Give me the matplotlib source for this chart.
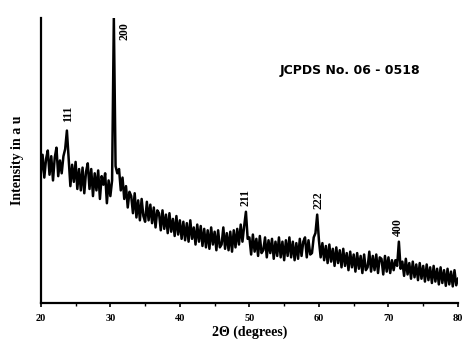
import numpy as np
import matplotlib
matplotlib.use("Agg")
import matplotlib.pyplot as plt

# XRD scan, 20-80 deg in 0.25 deg steps
two_theta = np.arange(20, 80.001, 0.25)
intensity = [
    455, 520, 440, 505,   # 20
    535, 450, 515, 430,   # 21
    510, 545, 445, 500,   # 22
    455, 515, 540, 605,   # 23
    505, 410, 485, 425,   # 24
    495, 400, 470, 395,   # 25
    475, 385, 460, 490,   # 26
    400, 470, 375, 455,   # 27
    395, 465, 365, 445,   # 28
    415, 455, 350, 430,   # 29
    375, 430, 1000, 480,  # 30
    455, 470, 395, 440,   # 31
    365, 410, 335, 390,   # 32
    375, 315, 385, 300,   # 33
    360, 290, 365, 305,   # 34
    285, 355, 290, 345,   # 35
    280, 335, 265, 325,   # 36
    315, 255, 325, 260,   # 37
    310, 245, 315, 250,   # 38
    295, 235, 305, 240,   # 39
    290, 225, 285, 220,   # 40
    280, 215, 290, 225,   # 41
    265, 205, 275, 215,   # 42
    270, 200, 260, 195,   # 43
    255, 190, 265, 205,   # 44
    250, 185, 255, 195,   # 45
    205, 265, 190, 245,   # 46
    185, 250, 180, 255,   # 47
    195, 260, 205, 275,   # 48
    215, 270, 320, 225,   # 49
    230, 170, 240, 180,   # 50
    225, 165, 235, 175,   # 51
    185, 230, 160, 220,   # 52
    175, 225, 155, 215,   # 53
    165, 230, 160, 215,   # 54
    150, 220, 165, 230,   # 55
    160, 215, 150, 210,   # 56
    155, 225, 165, 215,   # 57
    230, 160, 220, 170,   # 58
    175, 230, 245, 310,   # 59
    220, 160, 210, 150,   # 60
    200, 140, 205, 145,   # 61
    190, 130, 195, 140,   # 62
    185, 125, 190, 130,   # 63
    175, 115, 180, 125,   # 64
    170, 110, 175, 120,   # 65
    165, 105, 170, 115,   # 66
    125, 180, 110, 165,   # 67
    115, 170, 105, 160,   # 68
    155, 100, 165, 110,   # 69
    160, 105, 150, 115,   # 70
    150, 130, 215, 120,   # 71
    145, 95, 155, 100,    # 72
    140, 85, 145, 90,     # 73
    135, 80, 140, 85,     # 74
    130, 75, 135, 80,     # 75
    125, 70, 130, 75,     # 76
    120, 65, 125, 70,     # 77
    115, 60, 120, 65,     # 78
    110, 58, 115, 62,     # 79
    85,                   # 80
]

# peak labels (hkl) and their positions
peak_labels = ["111", "200", "211", "222", "400"]
peak_x = [23.9, 32.1, 49.5, 59.9, 71.4]
peak_y = [665, 955, 371, 360, 266]

serif = "Liberation Serif"

fig = plt.figure(figsize=(4.64, 3.40), dpi=100)
ax = fig.add_axes([0.088, 0.109, 0.899, 0.838])

ax.plot(two_theta, intensity, color="black", lw=1.8)

for lab, x, y in zip(peak_labels, peak_x, peak_y):
    ax.text(x, y, lab, rotation=90, ha="center", va="center",
            fontsize=8.5, fontweight="bold", family=serif)

ax.text(64.4, 815, "JCPDS No. 06 - 0518", ha="center", va="center",
        fontsize=9, fontweight="bold", family="DejaVu Sans")

ax.set_xlim(20, 80)
ax.set_ylim(0, 1000)
ax.set_xticks(range(20, 81, 10))
ax.set_xticks(range(25, 80, 10), minor=True)
ax.set_yticks([])
ax.tick_params(axis="x", which="major", direction="out", length=3, width=1.2, pad=5)
ax.tick_params(axis="x", which="minor", direction="out", length=2, width=1)
for t in ax.get_xticklabels():
    t.set_fontsize(7.5)
    t.set_fontweight("bold")
    t.set_family(serif)

ax.spines["top"].set_visible(False)
ax.spines["right"].set_visible(False)
ax.spines["left"].set_linewidth(1.6)
ax.spines["bottom"].set_linewidth(1.6)

ax.set_xlabel("2\u0398 (degrees)", fontsize=10, fontweight="bold", family=serif, labelpad=2)
ax.set_ylabel("Intensity in a u", fontsize=10, fontweight="bold", family=serif, labelpad=12)

fig.savefig("out.png", dpi=100)
